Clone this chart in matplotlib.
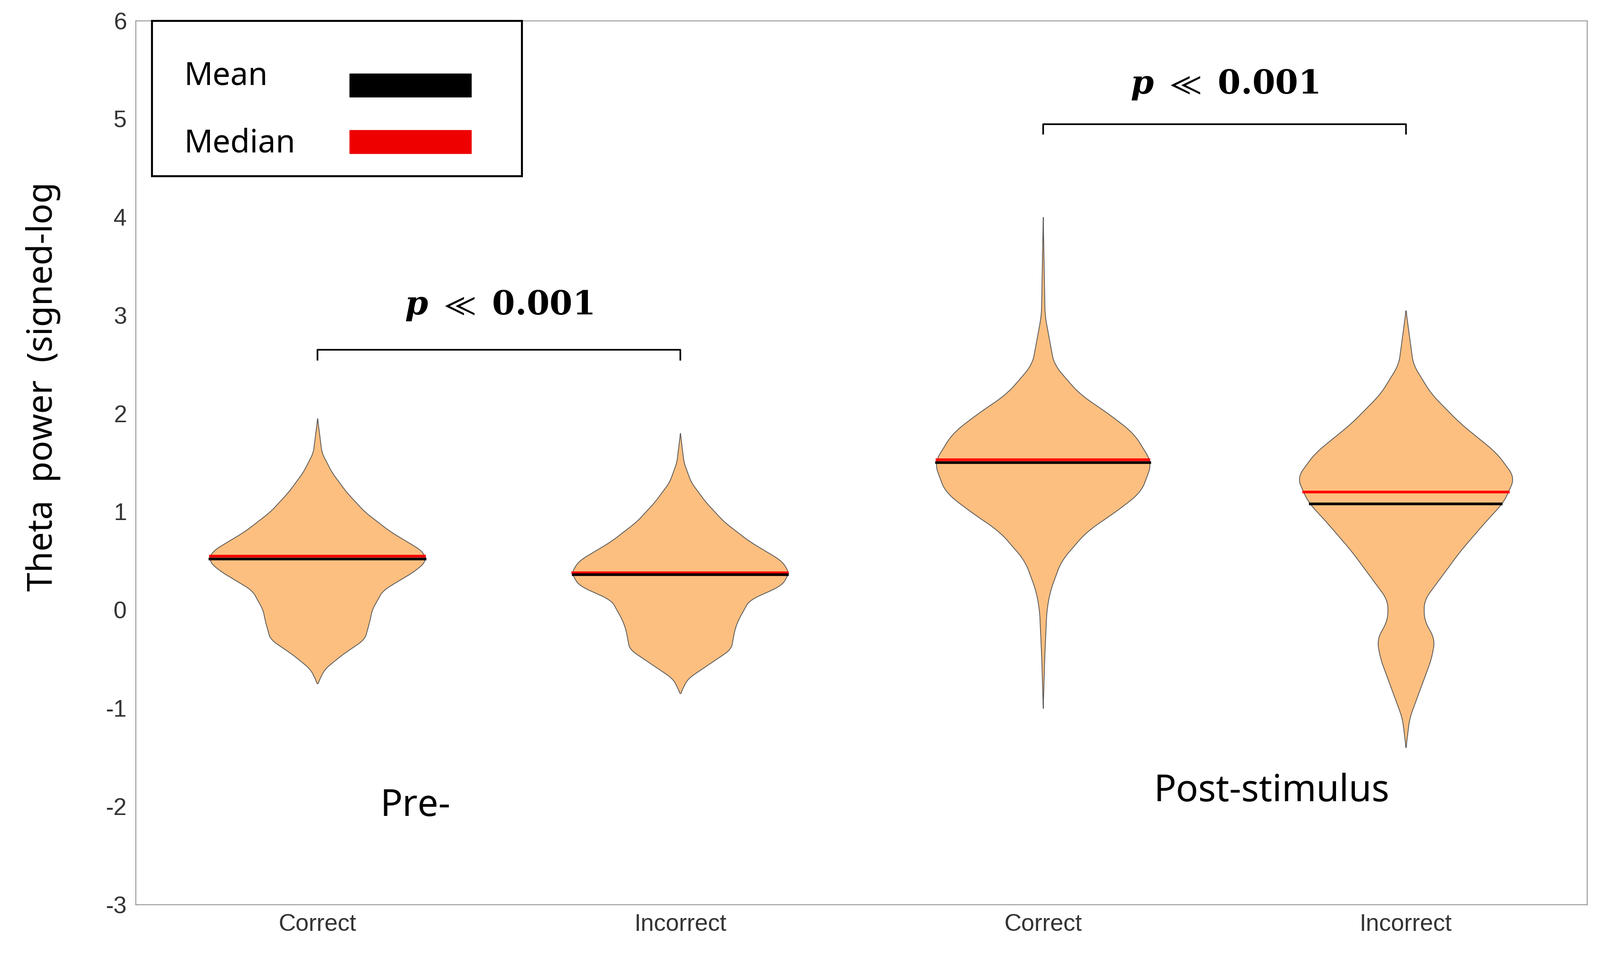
import numpy as np
import matplotlib
matplotlib.use("Agg")
import matplotlib.pyplot as plt
from matplotlib.patches import Rectangle

plt.rcParams["mathtext.fontset"] = "dejavuserif"

categories = ["Correct", "Incorrect", "Correct", "Incorrect"]
positions = [1, 2, 3, 4]

# violin half-width profiles (y level, half-width in x units)
v1_y = [-0.75, -0.6, -0.45, -0.3, -0.1, 0.0, 0.2, 0.4, 0.5, 0.6, 0.8, 1.0, 1.2, 1.4, 1.6, 1.95]
v1_w = [0.0, 0.02, 0.07, 0.13, 0.145, 0.15, 0.18, 0.27, 0.3, 0.29, 0.2, 0.13, 0.08, 0.04, 0.012, 0.0]
v2_y = [-0.85, -0.7, -0.55, -0.4, -0.2, -0.1, 0.1, 0.25, 0.38, 0.5, 0.7, 0.9, 1.1, 1.3, 1.5, 1.8]
v2_w = [0.0, 0.02, 0.08, 0.14, 0.15, 0.16, 0.19, 0.28, 0.3, 0.28, 0.19, 0.12, 0.07, 0.03, 0.01, 0.0]
v3_y = [-1.0, -0.5, 0.0, 0.2, 0.5, 0.8, 1.0, 1.2, 1.5, 1.8, 2.0, 2.2, 2.5, 3.0, 4.0]
v3_w = [0.0, 0.004, 0.01, 0.02, 0.05, 0.12, 0.2, 0.27, 0.3, 0.25, 0.18, 0.1, 0.03, 0.005, 0.0]
v4_y = [-1.4, -1.1, -0.8, -0.5, -0.3, -0.1, 0.1, 0.3, 0.6, 0.9, 1.1, 1.35, 1.6, 1.9, 2.2, 2.5, 3.05]
v4_w = [0.0, 0.01, 0.04, 0.07, 0.08, 0.05, 0.05, 0.09, 0.15, 0.22, 0.27, 0.3, 0.25, 0.15, 0.07, 0.02, 0.0]
profiles = [(v1_y, v1_w), (v2_y, v2_w), (v3_y, v3_w), (v4_y, v4_w)]

means = [0.52, 0.36, 1.50, 1.08]
medians = [0.55, 0.38, 1.53, 1.20]

brackets = [(1, 2, 2.65, 3.1), (3, 4, 4.95, 5.35)]
yticks = [-3, -2, -1, 0, 1, 2, 3, 4, 5, 6]

fig = plt.figure(figsize=(33.69, 20.34), dpi=100)
ax = fig.add_axes([0.085, 0.0636, 0.907, 0.915])
ax.set_xlim(0.5, 4.5)
ax.set_ylim(-3, 6)

def smooth(ys, ws):
    yy = np.linspace(ys[0], ys[-1], 400)
    ww = np.interp(yy, ys, ws)
    k = np.ones(15) / 15
    ww2 = np.convolve(np.pad(ww, 7, mode="edge"), k, mode="valid")
    ww2[0] = 0; ww2[-1] = 0
    return yy, ww2

for pos, (ys, ws), mn, md in zip(positions, profiles, means, medians):
    yy, ww = smooth(ys, ws)
    ax.fill_betweenx(yy, pos - ww, pos + ww, facecolor="#fdbf80", edgecolor="#555555", linewidth=1.2, zorder=2)
    wmd = np.interp(md, yy, ww)
    wmn = np.interp(mn, yy, ww)
    ax.plot([pos - wmd, pos + wmd], [md, md], color="red", lw=4, zorder=3)
    ax.plot([pos - wmn, pos + wmn], [mn, mn], color="black", lw=4, zorder=4)

for x1, x2, yb, yt in brackets:
    ax.plot([x1, x1, x2, x2], [yb - 0.1, yb, yb, yb - 0.1], color="black", lw=2.5)
    ax.text((x1 + x2) / 2, yt, r"$\boldsymbol{p}\ \ll\ \mathbf{0.001}$", ha="center", va="center", fontsize=50)

ax.text(1.27, -2.0, "Pre-", fontsize=56, family="Noto Sans", ha="center", va="center")
ax.text(3.63, -1.85, "Post-stimulus", fontsize=56, family="Noto Sans", ha="center", va="center")

ax.set_xticks(positions)
ax.set_xticklabels(categories, fontsize=36, color="#333333", family="Liberation Sans")
ax.set_yticks(yticks)
ax.set_yticklabels([str(t) for t in yticks], fontsize=36, color="#333333", family="Liberation Sans")
ax.tick_params(length=0, pad=14)
for s in ax.spines.values():
    s.set_color("#888888"); s.set_linewidth(1.2)

fig.text(0.027, 0.6, "Theta  power  (signed-log", rotation=90, fontsize=52, family="Noto Sans", ha="center", va="center")

# legend box
ax.add_patch(Rectangle((0.011, 0.824), 0.255, 0.176, transform=ax.transAxes, fill=False, lw=3, edgecolor="black", zorder=5, clip_on=False))
ax.text(0.033, 0.937, "Mean", transform=ax.transAxes, fontsize=48, family="Noto Sans", va="center")
ax.text(0.033, 0.861, "Median", transform=ax.transAxes, fontsize=48, family="Noto Sans", va="center")
ax.add_patch(Rectangle((0.147, 0.914), 0.084, 0.026, transform=ax.transAxes, color="black", zorder=5))
ax.add_patch(Rectangle((0.147, 0.850), 0.084, 0.026, transform=ax.transAxes, color="#ee0000", zorder=5))

fig.savefig("out.png", dpi=100)
